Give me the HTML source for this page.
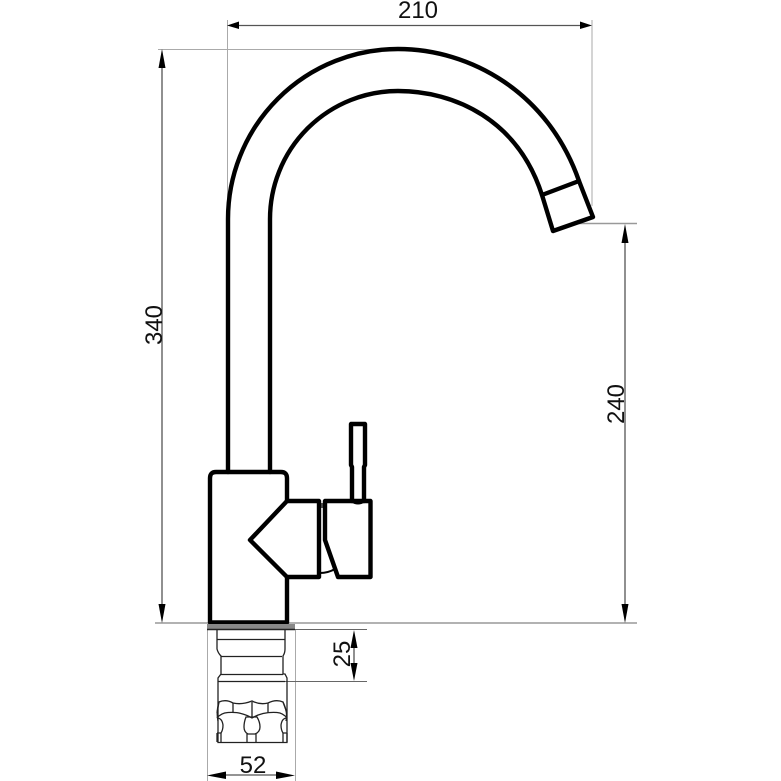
<!DOCTYPE html>
<html>
<head>
<meta charset="utf-8">
<style>
html,body{margin:0;padding:0;background:#fff;width:781px;height:781px;overflow:hidden}
svg{display:block}
text{font-family:"Liberation Sans",sans-serif;font-size:24px;fill:#111}
</style>
</head>
<body>
<svg width="781" height="781" viewBox="0 0 781 781" xmlns="http://www.w3.org/2000/svg">
<!-- thin extension lines -->
<g fill="none" stroke="#aaa" stroke-width="1">
<path d="M227.500 20V215"/>
<path d="M592 20V206"/>
<path d="M158 49.500H395"/>
<path d="M207.500 630V781"/>
<path d="M295.500 630V781"/>
</g>
<g fill="none" stroke="#999" stroke-width="1.500">
<path d="M155 623H637"/>
<path d="M575 223.500H637"/>
</g>
<g fill="none" stroke="#666" stroke-width="1">
<path d="M295 629.500H367"/>
<path d="M285 681.500H367"/>
</g>
<!-- dimension lines -->
<g fill="none" stroke="#555" stroke-width="1.300">
<path d="M235 25.500H585"/>
<path d="M162 60V612"/>
<path d="M625 234V612"/>
<path d="M354 640V670"/>
<path d="M218 775H285"/>
</g>
<!-- arrowheads -->
<g fill="#000">
<path d="M227 25.500L239 21.500V29Z"/>
<path d="M592 25.500L580 21.500V29Z"/>
<path d="M162 49L158.500 68H165.500Z"/>
<path d="M162 623L158.500 604H165.500Z"/>
<path d="M625 224L621.500 243H628.500Z"/>
<path d="M625 623L621.500 604H628.500Z"/>
<path d="M354 630L350.500 648H357.500Z"/>
<path d="M354 681L350.500 663H357.500Z"/>
<path d="M207 775.500L226 771.500V779Z"/>
<path d="M295 775.500L276 771.500V779Z"/>
</g>
<!-- labels -->
<text x="418" y="18" text-anchor="middle">210</text>
<text transform="translate(162 325) rotate(-90)" text-anchor="middle">340</text>
<text transform="translate(624 404) rotate(-90)" text-anchor="middle">240</text>
<text transform="translate(350 654) rotate(-90)" text-anchor="middle">25</text>
<text x="253" y="773" text-anchor="middle">52</text>
<!-- spout -->
<g fill="none" stroke="#000" stroke-width="4.400" stroke-linejoin="round" stroke-linecap="round">
<path d="M228 472V219A170 170 0 0 1 398 49C470 49 548 92 579 181L593 217L553 231L542 195C518 120 455 91 398 91A128 128 0 0 0 270 219V472"/>
<path d="M542 195L579 181"/>
<!-- body -->
<path d="M287 501V478Q287 472 281 472H216Q210 472 210 478V622.500H287V577"/>
<path d="M287 501L250 540L287 577H319V501Z"/>
<path d="M325 501V540L338 577H370.500V501H325"/>
<path d="M352 501V467L351 465V424H365V465L364 467V501"/>
<path d="M352 501Q358 505 364 501" stroke-width="3"/>
</g>
<g fill="none" stroke="#000" stroke-width="2">
<path d="M320 573Q328 573 335 569"/>
<path d="M322 503V508" stroke="#444"/>
</g>
<!-- base -->
<rect x="207" y="624" width="88" height="5" fill="#888"/>
<path d="M207 629.500H295" stroke="#222" stroke-width="1.600"/>
<g fill="none" stroke="#222" stroke-width="1.300">
<path d="M217 630V649Q218 653 221 656V674L218 678V742.500H287V678L285 674H283V656Q285 653 285 649V630"/>
<path d="M217 639.500H285"/>
<path d="M221 656.500H282"/>
<path d="M221 674.500H283"/>
<path d="M218 681.500H285"/>
<path d="M217 713L219 702Q226 699 233 703Q242 705 252 701Q260 705 268 703Q276 699 283 702L287 713"/>
<path d="M217 718Q221 713 228 712.500Q236 712 241 713.500Q247 715 252 718Q257 715 263 713.500Q270 712 277 712.500Q283 713 287 718"/>
<path d="M233 703V713M252 702V717M268 703V713"/>
<path d="M219 702Q216 712 218 721M283 702Q288 712 286 721"/>
<path d="M217 718Q222 718 223 725Q223 730 221 733H217"/>
<path d="M287 718Q282 718 281 725Q281 730 283 733H287"/>
<path d="M246 717H257Q260 722 260 727Q260 732 255 734H248Q244 732 244 727Q244 722 246 717Z"/>
<path d="M247 734V742M256 734V742"/>
<path d="M217 733V742M221 733V742M283 733V742M287 733V742"/>
</g>
</svg>
</body>
</html>
